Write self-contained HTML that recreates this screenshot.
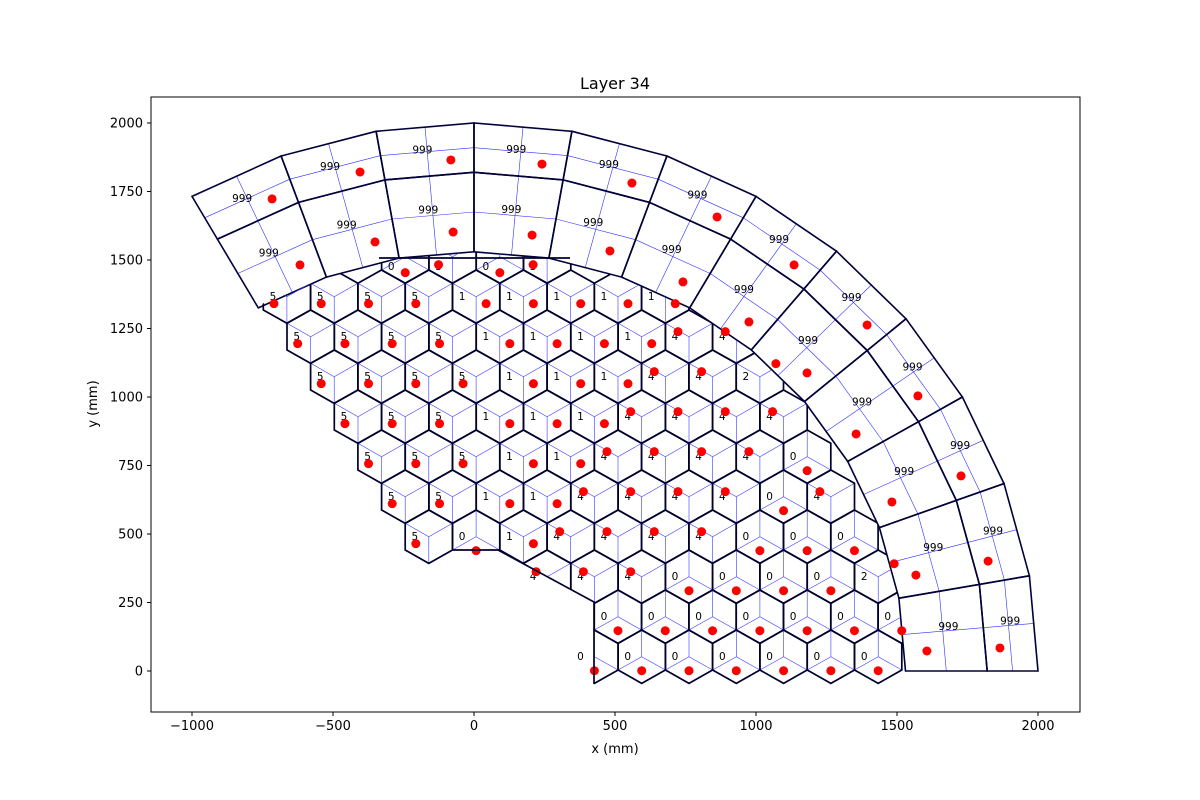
<!DOCTYPE html>
<html><head><meta charset="utf-8"><style>
html,body{margin:0;padding:0;background:#fff}
svg{display:block;font-family:"DejaVu Sans","Liberation Sans",sans-serif}
</style></head><body>
<svg id="chart" width="1200" height="800" viewBox="0 0 1200 800" xmlns="http://www.w3.org/2000/svg">
<rect x="0" y="0" width="1200" height="800" fill="#fff"/>
<defs><clipPath id="hexclip"><polygon id="hexclip-poly" points=""/></clipPath>
<clipPath id="plotclip"><rect x="151" y="97" width="929" height="615"/></clipPath></defs>
<g id="plot" clip-path="url(#plotclip)"></g>
<rect x="151" y="97" width="929" height="615" fill="none" stroke="#000" stroke-width="1"/>
<g id="axes"></g>
<text x="615" y="89" font-size="16" text-anchor="middle">Layer 34</text>
<text x="615" y="753" font-size="13" text-anchor="middle">x (mm)</text>
<text x="97" y="404" font-size="13" text-anchor="middle" transform="rotate(-90 97 404)">y (mm)</text>
</svg>
<script>
// ---- data ----
const xTicks = [-1000, -500, 0, 500, 1000, 1500, 2000];
const yTicks = [0, 250, 500, 750, 1000, 1250, 1500, 1750, 2000];
// hex rows: first column index and labels per cell
const rowStart = [0, 0, -1, -4, -4, -5, -5, -6, -6, -7, -4];
const rowLabels = ["0000000", "0000000", "44400002", "5014444000", "5511444404", "5551144440", "5551114444", "5555111442", "5555111144", "555511111", "0303"];
// wedge (scintillator) rings: 12 sectors each
const wedgeAngles = [120, 110, 100, 90, 80, 70, 60, 50, 40, 30, 20, 10, 0];
const ringRadii = [1530, 1820, 2000];
const outerLabels = ["999","999","999","999","999","999","999","999","999","999","999","999"];
const innerLabels = ["999","999","999","999","999","999","999","999","999","999","999","999"];
const outerDotX = [-716, -404, -82, 241, 560, 862, 1135, 1394, 1574, 1727, 1823, 1865];
const outerDotY = [1723, 1821, 1865, 1850, 1781, 1657, 1482, 1263, 1004, 712, 401, 84];
const innerDotX = [-617, -351, -74, 206, 482, 741, 975, 1181, 1355, 1482, 1567, 1606];
const innerDotY = [1482, 1566, 1602, 1591, 1533, 1420, 1274, 1088, 865, 617, 350, 73];

// ---- axis functions ----
const sx = v => 474 + 0.282 * v;
const sy = v => 671 - 0.274 * v;
const NS = "http://www.w3.org/2000/svg";
const plot = document.getElementById("plot");
const axes = document.getElementById("axes");
function mk(tag, attrs, parent) {
  const e = document.createElementNS(NS, tag);
  for (const k in attrs) e.setAttribute(k, attrs[k]);
  parent.appendChild(e);
  return e;
}
const P = (x, y) => sx(x).toFixed(1) + "," + sy(y).toFixed(1);

// ticks
xTicks.forEach(t => {
  const l = mk("line", {x1: sx(t), x2: sx(t), y1: 712, y2: 716, stroke: "#000"}, axes);
  
  
  const tx = mk("text", {x: sx(t), y: 730, "font-size": 13, "text-anchor": "middle"}, axes);
  
  
  tx.textContent = t < 0 ? "\u2212" + Math.abs(t) : t;
});
yTicks.forEach(t => {
  const l = mk("line", {x1: 147, x2: 151, y1: sy(t), y2: sy(t), stroke: "#000"}, axes);
  
  
  const tx = mk("text", {x: 143, y: sy(t) + 4.5, "font-size": 13, "text-anchor": "end"}, axes);
  
  
  tx.textContent = t;
});

// ---- wedge rings ----
const polar = (r, a) => [r * Math.cos(a * Math.PI / 180), r * Math.sin(a * Math.PI / 180)];
const wedgeG = mk("g", {}, plot);


for (let ring = 0; ring < 2; ring++) {
  const r0 = ringRadii[ring], r1 = ringRadii[ring + 1];
  for (let k = 0; k < 12; k++) {
    const a0 = wedgeAngles[k], a1 = wedgeAngles[k + 1];
    const p00 = polar(r0, a0), p01 = polar(r0, a1), p10 = polar(r1, a0), p11 = polar(r1, a1);
    const mid = (a, b) => [(a[0] + b[0]) / 2, (a[1] + b[1]) / 2];
    const mIn = mid(p00, p01), mOut = mid(p10, p11), mL = mid(p00, p10), mR = mid(p01, p11);
    const sub = mk("path", {d: "M" + P(...mIn) + "L" + P(...mOut) + "M" + P(...mL) + "L" + P(...mR), stroke: "#3030ff", "stroke-width": 0.6, fill: "none"}, wedgeG);
    
    
    const poly = mk("polygon", {points: [p00, p01, p11, p10].map(p => P(...p)).join(" "), fill: "none", stroke: "#00003a", "stroke-width": 1.6}, wedgeG);
    
    
    const lr = ring === 0 ? 1690 : 1910;
    const lp = polar(lr, (a0 + a1) / 2 + 0.5);
    const t = mk("text", {x: sx(lp[0]), y: sy(lp[1]) + 3.5, "font-size": 10.5, "text-anchor": "middle"}, wedgeG);
    
    
    t.textContent = ring === 0 ? innerLabels[k] : outerLabels[k];
  }
}

// ---- hex cells ----
const W = 167.7, S = 97.4, X0e = 427, X0o = 510.6, Y0 = 52.2, PITCH = 146;
const clipPts = [[594,700],[594,602],[498,550],[452,550],[452,625],[230,625],[257,306]];
for (let k = 1; k < 13; k++) { const p = polar(ringRadii[0], wedgeAngles[k]); clipPts.push([sx(p[0]), sy(p[1])]); }
clipPts.push([sx(ringRadii[0]), 700]);
document.getElementById("hexclip-poly").setAttribute("points", clipPts.map(p => p.join(",")).join(" "));
const hexG = mk("g", {"clip-path": "url(#hexclip)"}, plot);


const labelG = mk("g", {}, plot);
const dotG = mk("g", {}, plot);
const dotOff = {"0": [0, 14], "4": [-11, -5], "5": [-13, 7], "1": [10, 7], "2": [16, -13], "3": [-14, 6]};
const centers = [];
rowLabels.forEach((labs, r) => {
  for (let i = 0; i < labs.length; i++) {
    const j = rowStart[r] + i;
    const cx = (r % 2 ? X0o : X0e) + W * j, cy = Y0 + PITCH * r;
    centers.push([cx, cy, labs[i], r]);
  }
});
centers.forEach(([cx, cy, lab, r]) => {
  const T = [cx, cy + S], UR = [cx + W / 2, cy + S / 2], LR = [cx + W / 2, cy - S / 2], B = [cx, cy - S], LL = [cx - W / 2, cy - S / 2], UL = [cx - W / 2, cy + S / 2];
  const spokes = lab === "0" ? [T, LL, LR] : [UL, UR, B];
  const sp = mk("path", {d: spokes.map(v => "M" + P(cx, cy) + "L" + P(...v)).join(""), stroke: "#3a3aff", "stroke-width": 0.6, fill: "none"}, hexG);
  
  
  const hx = mk("polygon", {points: [T, UR, LR, B, LL, UL].map(v => P(...v)).join(" "), fill: "none", stroke: "#00002e", "stroke-width": 1.7}, hexG);
  
  
  const ly = r === 10 ? 10 : 0;
  const t = mk("text", {x: sx(cx) - 14, y: sy(cy) + 3.5 + ly, "font-size": 10.5, "text-anchor": "middle"}, labelG);
  
  
  t.textContent = lab;
  const o = dotOff[lab] || [0, 0];
  const d = mk("circle", {cx: sx(cx) + o[0], cy: sy(cy) + o[1] + (r === 10 ? 2 : 0), r: 4.5, fill: "#ff0000"}, dotG);
  
  
});
// cut edges
const cut = mk("path", {d: "M594,684L594,602L498,550L452,550M379,258L570,258", stroke: "#00002e", "stroke-width": 1.7, fill: "none"}, plot);



// wedge dots
outerDotX.forEach((x, i) => {
  const d = mk("circle", {cx: sx(x), cy: sy(outerDotY[i]), r: 4.5, fill: "#ff0000"}, dotG);
  
  
});
innerDotX.forEach((x, i) => {
  const d = mk("circle", {cx: sx(x), cy: sy(innerDotY[i]), r: 4.5, fill: "#ff0000"}, dotG);
  
  
});
</script>
</body></html>
